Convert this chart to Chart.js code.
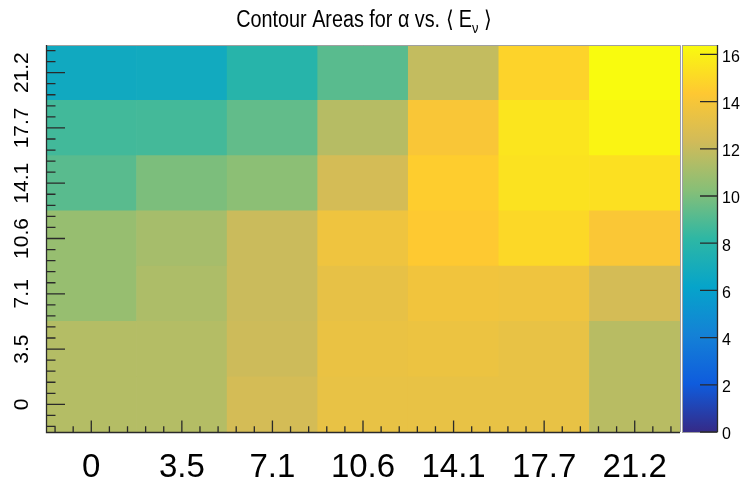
<!DOCTYPE html>
<html lang="en">
<head>
    <meta charset="UTF-8">
    <title>Contour Areas</title>
    <script src="https://cdn.jsdelivr.net/npm/chart.js"></script>
    <style>
        body { margin: 0; background: #fff; }
        canvas { display: block; }
    </style>
</head>
<body>
    <canvas id="heatChart" width="743" height="480"></canvas>

    <script>
        // axis labels (x = columns, y = rows from bottom to top)
        const xLabels = ['0', '3.5', '7.1', '10.6', '14.1', '17.7', '21.2'];
        const yLabels = ['0', '3.5', '7.1', '10.6', '14.1', '17.7', '21.2'];

        // cell values, one array per row, bottom row first
        const row0  = [11.5, 11.5, 12.45, 13.35, 13.35, 13.35, 11.6];
        const row35 = [11.5, 11.5, 12.2, 13.45, 13.55, 13.35, 11.6];
        const row71 = [10.7, 11.3, 12.1, 13.3, 13.75, 13.65, 12.45];
        const row106 = [10.7, 11.1, 12.1, 13.65, 14.4, 15.0, 14.15];
        const row141 = [9.2, 10.0, 10.4, 12.45, 14.55, 15.4, 15.3];
        const row177 = [8.65, 8.7, 9.4, 11.55, 14.1, 15.5, 16.1];
        const row212 = [6.7, 6.75, 7.85, 9.2, 11.9, 14.8, 16.4];
        const rows = [row0, row35, row71, row106, row141, row177, row212];

        // colour axis
        const zMin = 0;
        const zMax = 16.4;
        const zTicks = [0, 2, 4, 6, 8, 10, 12, 14, 16];

        // ROOT kBird palette
        const palStops = [0, 0.125, 0.25, 0.375, 0.5, 0.625, 0.75, 0.875, 1];
        const palRGB = [
            [53, 42, 135], [15, 92, 221], [20, 129, 214], [6, 164, 202],
            [46, 183, 164], [135, 191, 119], [209, 187, 89], [254, 200, 50], [249, 251, 14]
        ];

        function zColor(v) {
            let f = (v - zMin) / (zMax - zMin);
            f = Math.max(0, Math.min(1, f));
            let i = 0;
            while (i < palStops.length - 2 && f > palStops[i + 1]) i++;
            const t = (f - palStops[i]) / (palStops[i + 1] - palStops[i]);
            const a = palRGB[i], b = palRGB[i + 1];
            const c = a.map((x, k) => Math.round(x + (b[k] - x) * t));
            return `rgb(${c[0]}, ${c[1]}, ${c[2]})`;
        }

        const datasets = rows.map((r, i) => ({
            label: yLabels[i],
            data: r.map(() => 1),
            values: r,
            backgroundColor: r.map(v => zColor(v)),
            borderWidth: 0,
            barPercentage: 1.0,
            categoryPercentage: 1.0
        }));

        // ticks, labels, frame, colour bar and title
        const decorPlugin = {
            id: 'decor',
            afterDatasetsDraw(chart) {
                const ctx = chart.ctx;
                const area = chart.chartArea;
                const xs = chart.scales.x;
                const ys = chart.scales.y;
                const colW = xs.getPixelForValue(1) - xs.getPixelForValue(0);
                const rowH = ys.getPixelForValue(0) - ys.getPixelForValue(1);

                ctx.save();
                // frame
                ctx.strokeStyle = '#a0a0a0';
                ctx.lineWidth = 1;
                ctx.beginPath();
                ctx.moveTo(area.left, area.top + 0.5);
                ctx.lineTo(area.right + 0.5, area.top + 0.5);
                ctx.lineTo(area.right + 0.5, area.bottom);
                ctx.stroke();

                ctx.strokeStyle = '#2a2a2a';
                ctx.lineWidth = 1.3;
                ctx.beginPath();
                ctx.moveTo(area.left + 0.5, area.top);
                ctx.lineTo(area.left + 0.5, area.bottom + 0.5);
                ctx.lineTo(area.right, area.bottom + 0.5);
                ctx.stroke();

                // x ticks
                ctx.beginPath();
                const x0 = xs.getPixelForValue(0);
                for (let k = -10; k <= 40; k++) {
                    const px = x0 + k * colW / 5;
                    if (px < area.left + 1 || px > area.right - 1) continue;
                    const len = (k % 5 === 0) ? 11.6 : 5.8;
                    ctx.moveTo(px, area.bottom);
                    ctx.lineTo(px, area.bottom - len);
                }
                // y ticks
                const y0 = ys.getPixelForValue(0.5);
                for (let k = -10; k <= 40; k++) {
                    const py = y0 - k * rowH / 5;
                    if (py < area.top + 1 || py > area.bottom - 1) continue;
                    const len = (k % 5 === 0) ? 19 : 9.5;
                    ctx.moveTo(area.left, py);
                    ctx.lineTo(area.left + len, py);
                }
                ctx.stroke();

                // x labels
                ctx.fillStyle = '#000';
                ctx.font = '33px "Liberation Sans", Arial, sans-serif';
                ctx.textAlign = 'center';
                ctx.textBaseline = 'alphabetic';
                xLabels.forEach((lab, i) => {
                    ctx.fillText(lab, xs.getPixelForValue(i), 477);
                });

                // y labels, rotated
                ctx.font = '21px "Liberation Sans", Arial, sans-serif';
                yLabels.forEach((lab, i) => {
                    const py = ys.getPixelForValue(i + 0.5);
                    ctx.save();
                    ctx.translate(28, py);
                    ctx.rotate(-Math.PI / 2);
                    ctx.textAlign = 'center';
                    ctx.fillText(lab, 0, 0);
                    ctx.restore();
                });

                // colour bar
                const cbL = 682, cbR = 717;
                const grad = ctx.createLinearGradient(0, area.bottom, 0, area.top);
                palStops.forEach((s, i) => {
                    const c = palRGB[i];
                    grad.addColorStop(s, `rgb(${c[0]}, ${c[1]}, ${c[2]})`);
                });
                ctx.fillStyle = grad;
                ctx.fillRect(cbL, area.top, cbR - cbL, area.bottom - area.top);
                ctx.strokeStyle = '#a0a0a0';
                ctx.lineWidth = 1;
                ctx.strokeRect(cbL + 0.5, area.top + 0.5, cbR - cbL, area.bottom - area.top);
                ctx.strokeStyle = '#2a2a2a';
                ctx.lineWidth = 1.3;
                ctx.beginPath();
                ctx.moveTo(cbR + 0.5, area.top);
                ctx.lineTo(cbR + 0.5, area.bottom);
                zTicks.forEach(z => {
                    const py = area.bottom - (z - zMin) / (zMax - zMin) * (area.bottom - area.top);
                    ctx.moveTo(cbR, py);
                    ctx.lineTo(cbR - 17, py);
                });
                ctx.stroke();
                ctx.fillStyle = '#000';
                ctx.font = '16px "Liberation Sans", Arial, sans-serif';
                ctx.textAlign = 'left';
                ctx.textBaseline = 'middle';
                zTicks.forEach(z => {
                    const py = area.bottom - (z - zMin) / (zMax - zMin) * (area.bottom - area.top);
                    ctx.fillText(String(z), cbR + 5, py + 3);
                });

                // title with subscript, slightly condensed
                ctx.textBaseline = 'alphabetic';
                const mainFont = '23px "Liberation Sans", Arial, sans-serif';
                const subFont = '15px "Liberation Sans", Arial, sans-serif';
                const partA = 'Contour Areas for \u03b1 vs. \u27e8 E';
                const partB = '\u03bd';
                const partC = ' \u27e9';
                const sx = 0.86;
                ctx.font = mainFont;
                const wA = ctx.measureText(partA).width;
                const wC = ctx.measureText(partC).width;
                ctx.font = subFont;
                const wB = ctx.measureText(partB).width;
                ctx.translate(364, 0);
                ctx.scale(sx, 1);
                let tx = -(wA + wB + wC) / 2;
                ctx.font = mainFont;
                ctx.textAlign = 'left';
                ctx.fillText(partA, tx, 27);
                tx += wA;
                ctx.font = subFont;
                ctx.fillText(partB, tx, 33);
                tx += wB;
                ctx.font = mainFont;
                ctx.fillText(partC, tx, 27);
                ctx.restore();
            }
        };

        const ctx = document.getElementById('heatChart').getContext('2d');
        const heatChart = new Chart(ctx, {
            type: 'bar',
            data: {
                labels: xLabels,
                datasets: datasets
            },
            options: {
                responsive: false,
                animation: false,
                layout: {
                    padding: { left: 46, top: 45, right: 63, bottom: 48 }
                },
                scales: {
                    x: { stacked: true, display: false },
                    y: { stacked: true, display: false, min: 0, max: 7 }
                },
                plugins: {
                    legend: { display: false },
                    tooltip: {
                        callbacks: {
                            label: function(context) {
                                return `${context.dataset.values[context.dataIndex]}`;
                            }
                        }
                    }
                }
            },
            plugins: [decorPlugin]
        });
    </script>
</body>
</html>
